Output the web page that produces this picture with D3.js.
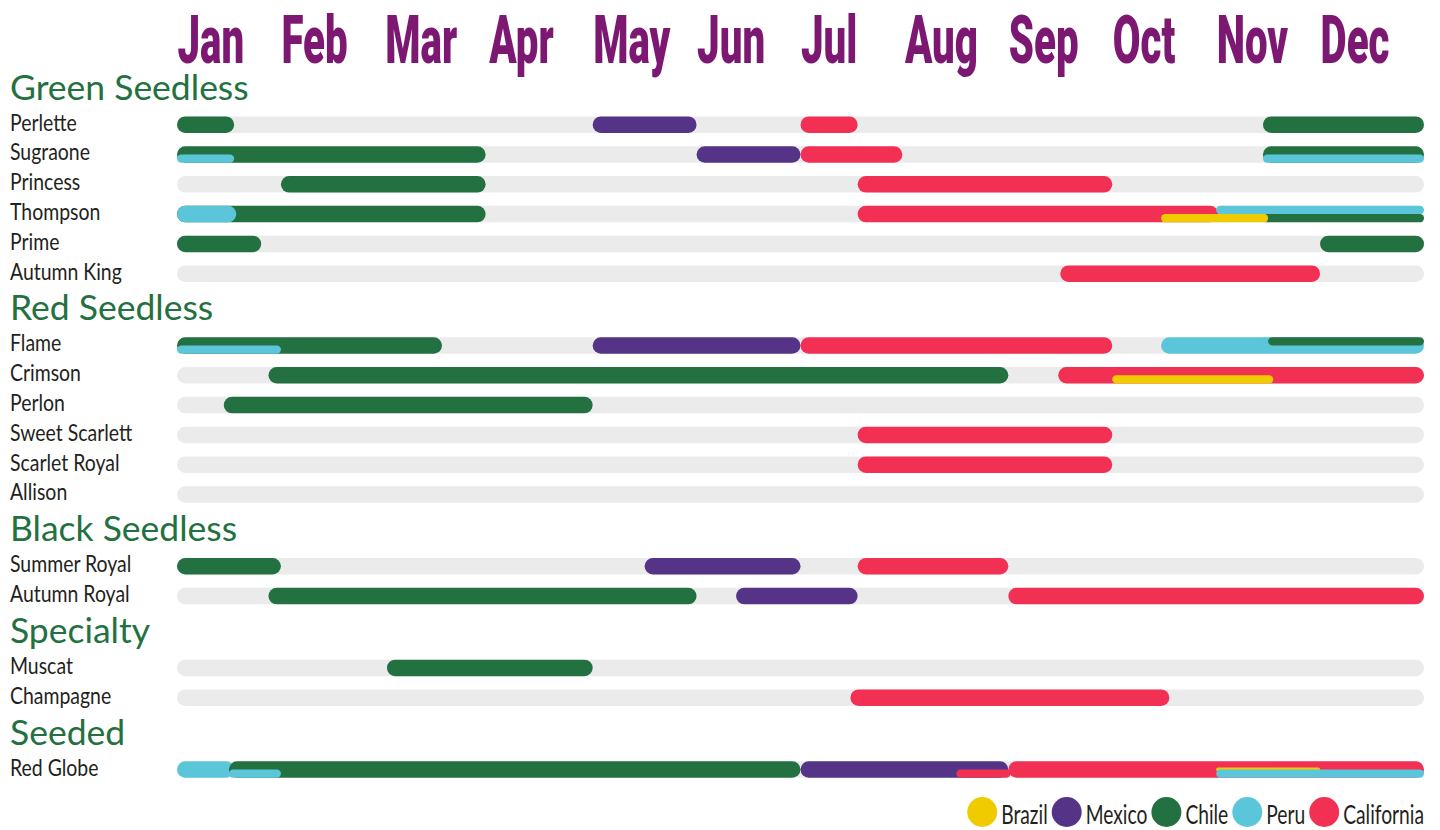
<!DOCTYPE html>
<html>
<head>
<meta charset="utf-8">
<script src="https://cdn.jsdelivr.net/npm/d3@7"></script>
<style>
  body { margin: 0; background: #fff; }
  svg { display: block; }
</style>
</head>
<body>
<div id="chart"></div>
<script>
// grape availability calendar: who ships which variety in which month

var months = ["Jan", "Feb", "Mar", "Apr", "May", "Jun", "Jul", "Aug", "Sep", "Oct", "Nov", "Dec"];

var groups = ["Green Seedless", "Red Seedless", "Black Seedless", "Specialty", "Seeded"];

var varieties = [
  ["Perlette", "Green Seedless"],
  ["Sugraone", "Green Seedless"],
  ["Princess", "Green Seedless"],
  ["Thompson", "Green Seedless"],
  ["Prime", "Green Seedless"],
  ["Autumn King", "Green Seedless"],
  ["Flame", "Red Seedless"],
  ["Crimson", "Red Seedless"],
  ["Perlon", "Red Seedless"],
  ["Sweet Scarlett", "Red Seedless"],
  ["Scarlet Royal", "Red Seedless"],
  ["Allison", "Red Seedless"],
  ["Summer Royal", "Black Seedless"],
  ["Autumn Royal", "Black Seedless"],
  ["Muscat", "Specialty"],
  ["Champagne", "Specialty"],
  ["Red Globe", "Seeded"]
];

var sources = ["Brazil", "Mexico", "Chile", "Peru", "California"];
var sourceColors = ["#efcb00", "#553386", "#237140", "#5bc6da", "#f23054"];

// [variety, source, start month, end month, share of the row]
var seasons = [
  ["Perlette", "Chile", 0, 0.55, "full"],
  ["Perlette", "Mexico", 4.0, 5.0, "full"],
  ["Perlette", "California", 6.0, 6.55, "full"],
  ["Perlette", "Chile", 10.45, 12, "full"],

  ["Sugraone", "Chile", 0, 2.97, "full"],
  ["Sugraone", "Peru", 0, 0.55, "bottom"],
  ["Sugraone", "Mexico", 5.0, 6.0, "full"],
  ["Sugraone", "California", 6.0, 6.98, "full"],
  ["Sugraone", "Chile", 10.45, 12, "full"],
  ["Sugraone", "Peru", 10.45, 12, "bottom"],

  ["Princess", "Chile", 1.0, 2.97, "full"],
  ["Princess", "California", 6.55, 9.0, "full"],

  ["Thompson", "Chile", 0, 2.97, "full"],
  ["Thompson", "Peru", 0, 0.57, "full"],
  ["Thompson", "California", 6.55, 10.02, "full"],
  ["Thompson", "Peru", 10.0, 12, "top"],
  ["Thompson", "Chile", 10.45, 12, "bottom"],
  ["Thompson", "Brazil", 9.47, 10.5, "bottom"],

  ["Prime", "Chile", 0, 0.81, "full"],
  ["Prime", "Chile", 11.0, 12, "full"],

  ["Autumn King", "California", 8.5, 11.0, "full"],

  ["Flame", "Chile", 0, 2.55, "full"],
  ["Flame", "Peru", 0, 1.0, "bottom"],
  ["Flame", "Mexico", 4.0, 6.0, "full"],
  ["Flame", "California", 6.0, 9.0, "full"],
  ["Flame", "Peru", 9.47, 12, "full"],
  ["Flame", "Chile", 10.5, 12, "top"],

  ["Crimson", "Chile", 0.88, 8.0, "full"],
  ["Crimson", "California", 8.48, 12, "full"],
  ["Crimson", "Brazil", 9.0, 10.55, "bottom"],

  ["Perlon", "Chile", 0.45, 4.0, "full"],

  ["Sweet Scarlett", "California", 6.55, 9.0, "full"],

  ["Scarlet Royal", "California", 6.55, 9.0, "full"],

  ["Summer Royal", "Chile", 0, 1.0, "full"],
  ["Summer Royal", "Mexico", 4.5, 6.0, "full"],
  ["Summer Royal", "California", 6.55, 8.0, "full"],

  ["Autumn Royal", "Chile", 0.88, 5.0, "full"],
  ["Autumn Royal", "Mexico", 5.38, 6.55, "full"],
  ["Autumn Royal", "California", 8.0, 12, "full"],

  ["Muscat", "Chile", 2.02, 4.0, "full"],

  ["Champagne", "California", 6.48, 9.55, "full"],

  ["Red Globe", "Peru", 0, 0.55, "full"],
  ["Red Globe", "Chile", 0.5, 6.0, "full"],
  ["Red Globe", "Peru", 0.5, 1.0, "bottom"],
  ["Red Globe", "Mexico", 6.0, 8.0, "full"],
  ["Red Globe", "California", 7.5, 8.02, "bottom"],
  ["Red Globe", "California", 8.0, 12, "full"],
  ["Red Globe", "Brazil", 10.0, 11.0, "thin"],
  ["Red Globe", "Peru", 10.0, 12, "bottom"]
];

var svgWidth = 1440;
var svgHeight = 830;

var barH = 16.5;
var groupGap = 1.41;   // extra space (in rows) taken by a group title

var svg = d3.select("#chart")
  .append("svg")
  .attr("width", svgWidth)
  .attr("height", svgHeight);

// x: months, 0 = start of Jan, 12 = end of Dec
var x = d3.scaleLinear()
  .domain([0, 12])
  .range([177, 1424]);

// y: row slot (row index plus room for group titles)
var slotOf = {};
varieties.forEach(function(v, i) {
  slotOf[v[0]] = i + groups.indexOf(v[1]) * groupGap;
});
var lastSlot = slotOf[varieties[varieties.length - 1][0]];

var y = d3.scaleLinear()
  .domain([0, lastSlot])
  .range([124.7, 769.5]);

var color = d3.scaleOrdinal()
  .domain(sources)
  .range(sourceColors);

// month labels across the top
var monthAxis = d3.axisTop(x)
  .tickValues(d3.range(12))
  .tickSize(0)
  .tickFormat(function(d) { return months[d]; });

var axisG = svg.append("g")
  .attr("transform", "translate(0, 63)")
  .call(monthAxis);

axisG.select(".domain").remove();
axisG.selectAll("text")
  .attr("y", 0)
  .attr("dy", 0)
  .attr("text-anchor", "start")
  .attr("transform", "scale(0.61, 1)")
  .style("font-family", "Roboto, 'Noto Sans', sans-serif")
  .style("font-weight", "900")
  .style("font-size", "66px")
  .style("fill", "#7c1871");

// group titles
svg.selectAll(".groupTitle")
  .data(groups)
  .enter()
  .append("text")
  .attr("class", "groupTitle")
  .attr("x", 10)
  .attr("y", function(g) {
    var first = varieties.find(function(v) { return v[1] === g; });
    return y(slotOf[first[0]]) - 25;
  })
  .style("font-family", "Lato, 'Noto Sans', sans-serif")
  .style("font-size", "35.5px")
  .style("fill", "#237140")
  .text(function(g) { return g; });

// variety labels
svg.selectAll(".varLabel")
  .data(varieties)
  .enter()
  .append("text")
  .attr("class", "varLabel")
  .attr("transform", function(v) {
    return "translate(10," + (y(slotOf[v[0]]) + 6) + ") scale(0.81, 1)";
  })
  .style("font-family", "Lato, 'Noto Sans', sans-serif")
  .style("font-size", "24px")
  .style("fill", "#231f20")
  .text(function(v) { return v[0]; });

// grey background track for each variety
svg.selectAll(".track")
  .data(varieties)
  .enter()
  .append("rect")
  .attr("class", "track")
  .attr("x", x(0))
  .attr("width", x(12) - x(0))
  .attr("y", function(v) { return y(slotOf[v[0]]) - barH / 2; })
  .attr("height", barH)
  .attr("rx", barH / 2)
  .attr("fill", "#ebebeb");

// season bars
function barTop(d) {
  var cy = y(slotOf[d[0]]);
  if (d[4] === "bottom") return cy;
  if (d[4] === "thin") return cy - 2;
  return cy - barH / 2;
}
function barHeight(d) {
  if (d[4] === "top" || d[4] === "bottom") return barH / 2;
  if (d[4] === "thin") return 4;
  return barH;
}

svg.selectAll(".season")
  .data(seasons)
  .enter()
  .append("rect")
  .attr("class", "season")
  .attr("x", function(d) { return x(d[2]); })
  .attr("width", function(d) { return x(d[3]) - x(d[2]); })
  .attr("y", barTop)
  .attr("height", barHeight)
  .attr("rx", function(d) { return barHeight(d) / 2; })
  .attr("fill", function(d) { return color(d[1]); });

// legend, bottom right, laid out from the right edge
var legend = svg.append("g").attr("class", "legend");
var legendItems = legend.selectAll("g")
  .data(sources)
  .enter()
  .append("g");

legendItems.append("circle")
  .attr("r", 15)
  .attr("cx", 15)
  .attr("cy", 0)
  .attr("fill", function(d) { return color(d); });

var legendScale = 0.74;
legendItems.append("text")
  .attr("transform", "translate(34, 12) scale(" + legendScale + ", 1)")
  .style("font-family", "Lato, 'Noto Sans', sans-serif")
  .style("font-size", "26px")
  .style("fill", "#231f20")
  .text(function(d) { return d; });

var widths = [];
legendItems.each(function() {
  widths.push(34 + d3.select(this).select("text").node().getComputedTextLength() * legendScale);
});
var gap = 4;
var total = d3.sum(widths) + gap * (sources.length - 1);
var cursor = 1424 - total;
legendItems.attr("transform", function(d, i) {
  var tx = cursor;
  cursor += widths[i] + gap;
  return "translate(" + tx + ", 812)";
});
</script>
</body>
</html>
